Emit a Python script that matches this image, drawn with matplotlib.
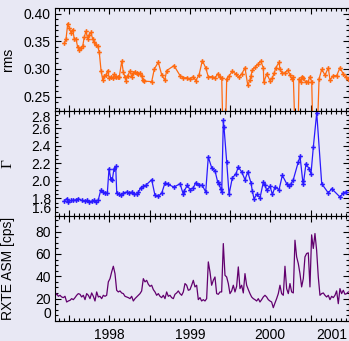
import numpy as np
import matplotlib
matplotlib.use("Agg")
import matplotlib.pyplot as plt
from matplotlib.ticker import FixedLocator, MultipleLocator, FuncFormatter

plt.rcParams['font.family'] = ['Liberation Sans', 'DejaVu Sans']
plt.rcParams['font.size'] = 10

# Fractional rms amplitude (decimal year, rms); values below 0.22 fall off the panel
rms_t = [1997.942, 1997.963, 1997.984, 1998.004, 1998.025, 1998.046, 1998.066, 1998.087,
         1998.108, 1998.128, 1998.149, 1998.170, 1998.190, 1998.211, 1998.232, 1998.252,
         1998.273, 1998.294, 1998.314, 1998.335, 1998.357, 1998.376, 1998.398, 1998.419,
         1998.439, 1998.460, 1998.481, 1998.501, 1998.522, 1998.543, 1998.563, 1998.584,
         1998.605, 1998.625, 1998.655, 1998.675, 1998.696, 1998.708, 1998.729, 1998.758,
         1998.779, 1998.799, 1998.820, 1998.841, 1998.861, 1998.882, 1998.903, 1998.916,
         1998.935, 1999.027, 1999.060, 1999.109, 1999.152, 1999.189, 1999.214, 1999.304,
         1999.379, 1999.420, 1999.462, 1999.503, 1999.544, 1999.574, 1999.615, 1999.656,
         1999.698, 1999.730, 1999.780, 1999.814, 1999.847, 1999.876, 1999.897, 1999.917,
         1999.938, 1999.959, 1999.991, 2000.029, 2000.071, 2000.112, 2000.145, 2000.186,
         2000.220, 2000.248, 2000.261, 2000.277, 2000.311, 2000.344, 2000.381, 2000.414,
         2000.420, 2000.456, 2000.497, 2000.526, 2000.550, 2000.568, 2000.609, 2000.621,
         2000.650, 2000.683, 2000.717, 2000.745, 2000.766, 2000.786, 2000.816, 2000.841,
         2000.857, 2000.878, 2000.891, 2000.911, 2000.940, 2000.965, 2000.994, 2001.015,
         2001.035, 2001.077, 2001.106, 2001.139, 2001.180, 2001.221, 2001.242, 2001.283,
         2001.325, 2001.366, 2001.407, 2001.437, 2001.470]
rms_v = [0.346, 0.354, 0.382, 0.374, 0.365, 0.371, 0.354, 0.354,
         0.339, 0.334, 0.338, 0.341, 0.358, 0.368, 0.354, 0.362,
         0.366, 0.354, 0.348, 0.344, 0.341, 0.330, 0.297, 0.280,
         0.288, 0.289, 0.297, 0.283, 0.286, 0.283, 0.290, 0.285,
         0.286, 0.286, 0.314, 0.294, 0.285, 0.279, 0.288, 0.296,
         0.286, 0.293, 0.295, 0.292, 0.290, 0.292, 0.288, 0.280,
         0.278, 0.277, 0.300, 0.312, 0.289, 0.280, 0.297, 0.306,
         0.288, 0.284, 0.284, 0.282, 0.286, 0.279, 0.289, 0.315,
         0.302, 0.286, 0.286, 0.284, 0.291, 0.286, 0.284, 0.150,
         0.150, 0.282, 0.288, 0.296, 0.291, 0.285, 0.291, 0.302,
         0.271, 0.280, 0.288, 0.298, 0.303, 0.308, 0.314, 0.302,
         0.276, 0.291, 0.279, 0.284, 0.293, 0.302, 0.312, 0.299,
         0.292, 0.293, 0.298, 0.289, 0.282, 0.286, 0.150, 0.150,
         0.282, 0.276, 0.286, 0.284, 0.276, 0.276, 0.286, 0.276,
         0.150, 0.150, 0.282, 0.299, 0.289, 0.302, 0.280, 0.288,
         0.288, 0.302, 0.291, 0.286, 0.282]

# Photon index
gam_t = [1997.942, 1997.971, 1997.991, 1998.025, 1998.053, 1998.087, 1998.116, 1998.158,
         1998.199, 1998.227, 1998.252, 1998.282, 1998.311, 1998.335, 1998.364, 1998.394,
         1998.419, 1998.447, 1998.476, 1998.497, 1998.518, 1998.538, 1998.559, 1998.580,
         1998.593, 1998.621, 1998.646, 1998.675, 1998.717, 1998.749, 1998.779, 1998.807,
         1998.841, 1998.861, 1998.891, 1998.923, 1998.953, 1999.027, 1999.068, 1999.109,
         1999.152, 1999.193, 1999.234, 1999.304, 1999.379, 1999.420, 1999.429, 1999.470,
         1999.503, 1999.544, 1999.574, 1999.615, 1999.656, 1999.698, 1999.730, 1999.772,
         1999.814, 1999.847, 1999.863, 1999.884, 1999.897, 1999.917, 1999.925, 1999.959,
         1999.988, 2000.029, 2000.071, 2000.103, 2000.145, 2000.186, 2000.220, 2000.261,
         2000.277, 2000.298, 2000.332, 2000.373, 2000.414, 2000.435, 2000.456, 2000.497,
         2000.526, 2000.559, 2000.609, 2000.650, 2000.704, 2000.733, 2000.758, 2000.786,
         2000.848, 2000.870, 2000.903, 2000.911, 2000.944, 2000.981, 2001.006, 2001.035,
         2001.077, 2001.139, 2001.221, 2001.263, 2001.366, 2001.407, 2001.437]
gam_v = [1.771, 1.798, 1.760, 1.778, 1.778, 1.786, 1.798, 1.778,
         1.771, 1.778, 1.760, 1.771, 1.778, 1.760, 1.786, 1.893,
         1.874, 1.863, 1.863, 2.141, 2.026, 2.015, 2.141, 2.167,
         1.863, 1.847, 1.836, 1.863, 1.874, 1.863, 1.874, 1.855,
         1.847, 1.874, 1.923, 1.938, 1.950, 2.015, 1.836, 1.824,
         1.863, 1.980, 1.960, 1.930, 1.969, 1.847, 1.885, 1.950,
         1.901, 1.923, 1.980, 1.950, 1.950, 1.874, 2.274, 2.152,
         2.114, 1.988, 1.961, 1.912, 1.874, 2.693, 2.617, 2.217,
         1.847, 2.038, 2.076, 2.160, 2.103, 2.015, 2.103, 1.977,
         1.886, 1.798, 1.847, 1.809, 1.988, 1.950, 1.893, 1.938,
         1.847, 1.931, 1.901, 2.064, 1.969, 1.938, 1.969, 2.015,
         2.217, 2.281, 2.000, 1.969, 2.198, 2.141, 2.083, 2.389,
         2.780, 1.969, 1.863, 1.912, 1.817, 1.863, 1.874]

# RXTE ASM weekly averaged count rate
asm_t0 = 1997.826
asm_dt = 0.0207
asm_rate = [22.1, 24.5, 22.1, 23.0, 21.5, 20.9, 22.1, 17.0, 17.9, 18.5, 20.0, 19.1,
            20.9, 23.0, 24.5, 23.9, 21.5, 23.0, 19.1, 24.5, 23.0, 20.0, 25.1, 22.1,
            17.9, 26.0, 21.5, 22.1, 20.0, 23.0, 22.1, 23.0, 35.0, 37.9, 43.9, 49.0,
            42.4, 27.5, 26.0, 26.9, 25.1, 24.5, 22.1, 21.5, 20.9, 20.0, 22.1, 17.9,
            20.0, 21.5, 23.0, 24.5, 26.9, 37.9, 35.0, 36.4, 32.9, 31.0, 32.0, 28.1,
            26.0, 23.0, 24.5, 22.1, 20.9, 23.0, 20.0, 26.0, 22.1, 23.0, 20.9, 20.0,
            23.9, 25.1, 26.9, 24.5, 23.0, 26.0, 33.5, 32.0, 27.5, 28.1, 32.0, 36.4,
            30.5, 32.0, 19.1, 20.9, 17.9, 19.1, 17.9, 20.0, 52.9, 43.9, 32.0, 36.4,
            39.4, 24.5, 23.9, 26.0, 26.0, 69.3, 40.9, 39.4, 33.5, 24.5, 26.9, 32.0,
            26.0, 31.0, 48.4, 29.0, 32.0, 25.1, 42.4, 32.0, 28.1, 24.5, 21.5, 20.0,
            19.1, 17.9, 20.0, 17.0, 19.1, 21.5, 23.0, 21.5, 19.1, 17.9, 17.0, 11.9,
            16.1, 20.0, 24.5, 32.0, 24.5, 23.0, 49.0, 29.0, 24.5, 33.5, 26.0, 25.1,
            72.3, 57.4, 51.4, 42.4, 30.5, 37.9, 57.4, 60.4, 61.0, 30.5, 77.1, 64.9,
            78.3, 63.3, 39.4, 23.0, 24.5, 25.1, 23.0, 21.5, 23.0, 19.1, 22.1, 20.9,
            23.0, 26.9, 15.5, 29.0, 24.5, 27.5, 23.9, 24.5, 26.0]
asm_t = asm_t0 + asm_dt * np.arange(len(asm_rate))

years = [1998, 1999, 2000, 2001]
bg = '#e8e8f4'
xlim = (1997.826, 2001.478)

fig = plt.figure(figsize=(3.49, 3.41), dpi=100, facecolor=bg)
ax1 = fig.add_axes([0.1576, 0.6745, 0.8424, 0.302])
ax2 = fig.add_axes([0.1576, 0.3666, 0.8424, 0.3079])
ax3 = fig.add_axes([0.1576, 0.0587, 0.8424, 0.3079])

ax1.plot(rms_t, rms_v, color='#ff6a10', lw=0.9, marker='P', ms=3.4, mew=0)
ax2.plot(gam_t, gam_v, color='#2a1aff', lw=0.9, marker='P', ms=3.4, mew=0)
ax3.plot(asm_t, asm_rate, color='#62006e', lw=0.9)

ax1.set_ylim(0.224, 0.41)
ax1.yaxis.set_major_locator(FixedLocator([0.25, 0.30, 0.35, 0.40]))
ax1.yaxis.set_minor_locator(MultipleLocator(0.01))
ax1.yaxis.set_major_formatter(FuncFormatter(lambda v, p: f'{v:.2f}'))

ax2.set_ylim(1.6, 2.8)
ax2.yaxis.set_major_locator(FixedLocator([1.6, 1.8, 2.0, 2.2, 2.4, 2.6, 2.8]))
ax2.yaxis.set_minor_locator(MultipleLocator(0.05))
ax2.yaxis.set_major_formatter(FuncFormatter(lambda v, p: f'{v:.1f}'))

ax3.set_ylim(0, 94)
ax3.yaxis.set_major_locator(FixedLocator([0, 20, 40, 60, 80]))
ax3.yaxis.set_minor_locator(MultipleLocator(5))

# year boundaries and mid-year marks, labels go on the mid-year ones
xmaj = sorted([y for y in years] + [y + 0.5 for y in years[:-1]] + [1997.5])
for ax in (ax1, ax2, ax3):
    ax.set_facecolor(bg)
    ax.set_xlim(*xlim)
    ax.xaxis.set_major_locator(FixedLocator(xmaj))
    ax.xaxis.set_minor_locator(MultipleLocator(1 / 16))
    ax.tick_params(which='both', direction='in', top=True, right=True, width=0.8,
                   colors='black', labelsize=10)
    ax.tick_params(which='major', length=4.3, pad=3)
    ax.tick_params(which='minor', length=2.0)
    ax.tick_params(axis='x', which='major', pad=5)
    for s in ax.spines.values():
        s.set_linewidth(0.8)
    ax.yaxis.set_label_coords(-0.136, 0.5)

ax1.xaxis.set_major_formatter(FuncFormatter(lambda v, p: ''))
ax2.xaxis.set_major_formatter(FuncFormatter(lambda v, p: ''))
ax3.xaxis.set_major_formatter(
    FuncFormatter(lambda v, p: f'{int(v)}' if abs(v % 1 - 0.5) < 1e-6 else ''))
# the last year's label sits inside the right edge
ax3.annotate(str(years[-1]), xy=(1.0, 0), xycoords='axes fraction',
             xytext=(-1.5, -5), textcoords='offset points',
             ha='right', va='top', fontsize=10)

# keep edge tick labels inside their own panel
ax2.yaxis.get_major_ticks()[0].label1.set_verticalalignment('bottom')
ax2.yaxis.get_major_ticks()[-1].label1.set_verticalalignment('top')
ax3.yaxis.get_major_ticks()[0].label1.set_verticalalignment('bottom')

ax1.set_ylabel('rms', fontsize=10)
ax2.set_ylabel('Γ', fontsize=11, family=['Liberation Serif', 'DejaVu Serif'])
ax3.set_ylabel('RXTE ASM [cps]', fontsize=10)

fig.savefig('out.png', dpi=100, facecolor=bg)
